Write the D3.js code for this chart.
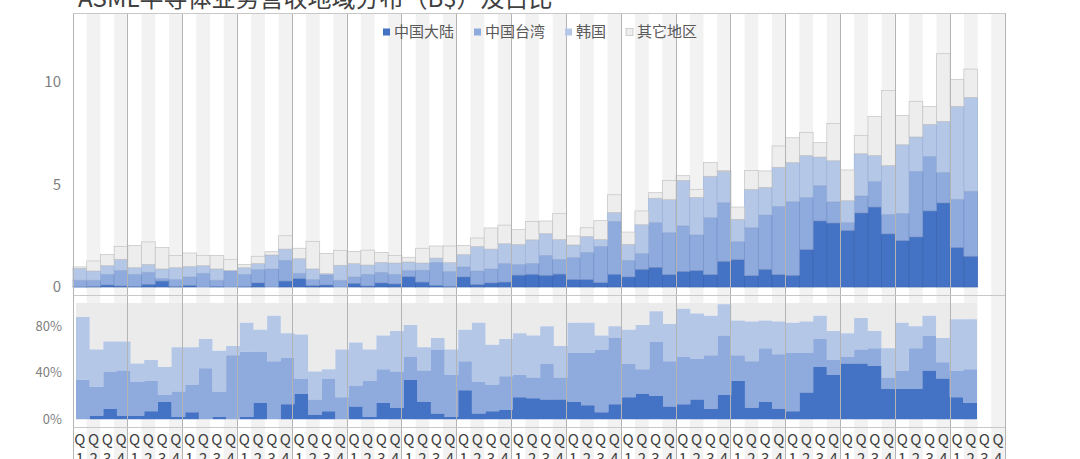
<!DOCTYPE html>
<html><head><meta charset="utf-8">
<script src="https://cdn.jsdelivr.net/npm/d3@7"></script>
<style>
body{margin:0;background:#fff;overflow:hidden}
svg{display:block}
text{font-family:"Noto Sans CJK SC","Noto Sans",sans-serif}
</style>
</head><body>
<svg id="chart" width="1080" height="459"></svg>
<script>
// ---------------- data ----------------
const title = "ASML半导体业务营收地域分布（B$）及占比";
const seriesNames = ["中国大陆", "中国台湾", "韩国", "其它地区"];
const quarters = ["Q1", "Q2", "Q3", "Q4"];
const yearCount = 17;
const valueTicks = [0, 5, 10];
const shareTicks = [0, 40, 80];

// revenue, B$
const mainland = [0.01,0.03,0.10,0.05,0.03,0.13,0.29,0.03,0.08,0.00,0.03,0.00,0.02,0.20,0.00,0.29,0.41,0.07,0.10,0.00,0.18,0.05,0.20,0.15,0.50,0.24,0.08,0.03,0.49,0.12,0.20,0.24,0.58,0.62,0.57,0.63,0.37,0.36,0.21,0.62,0.49,0.86,0.96,0.60,0.76,0.80,0.60,1.25,1.33,0.55,0.86,0.60,0.57,1.82,3.22,3.12,2.76,3.61,3.90,2.59,2.26,2.44,3.71,4.10,1.92,1.50];
const taiwan   = [0.32,0.30,0.52,0.76,0.59,0.59,0.13,0.33,0.41,0.67,0.30,0.78,0.60,0.65,0.88,1.01,0.26,0.29,0.49,0.33,0.31,0.57,0.52,0.47,0.31,0.58,1.12,0.72,0.49,0.66,0.68,0.90,0.52,0.53,0.97,0.72,1.06,1.33,1.77,2.58,0.81,0.77,2.18,2.05,2.22,1.74,2.78,2.86,0.88,2.34,2.65,3.33,3.59,2.54,1.72,1.03,0.38,0.83,1.24,0.95,1.33,3.20,2.66,1.49,2.36,3.17];
const korea    = [0.58,0.45,0.42,0.54,0.32,0.38,0.46,0.58,0.51,0.37,0.55,0.03,0.32,0.29,0.68,0.55,0.71,0.52,0.06,0.73,0.65,0.45,0.48,0.55,0.41,0.35,0.21,0.44,0.60,1.19,0.97,0.97,0.97,1.15,1.06,0.96,0.62,0.77,0.33,0.43,0.78,1.41,1.19,1.61,2.22,1.83,2.02,1.53,1.09,1.87,1.35,1.91,1.91,2.05,1.40,2.01,1.07,2.06,1.27,2.38,3.35,1.68,1.56,2.49,4.53,4.58];
const others   = [0.07,0.49,0.55,0.63,1.09,1.10,1.04,0.59,0.66,0.49,0.66,0.54,0.16,0.36,0.16,0.65,0.51,1.35,0.99,0.73,0.60,0.73,0.49,0.37,0.23,0.72,0.59,0.81,0.45,0.42,1.03,0.91,0.73,0.90,0.62,1.27,0.44,0.43,0.93,0.87,0.60,0.67,0.27,0.93,0.23,0.38,0.67,0.04,0.60,0.93,0.80,1.04,1.21,1.12,0.70,1.82,1.50,0.90,1.90,3.66,1.42,1.74,0.87,3.30,1.32,1.38];

// shares, %
const shareMainland = [0,3,9,3,3,7,15,2,6,0,2,0,2,14,0,13,22,4,7,0,11,2,14,10,34,15,5,2,25,5,7,8,19,18,17,17,15,12,6,13,19,22,20,11,13,17,9,21,33,10,15,9,7,23,45,38,48,48,46,26,26,26,42,35,19,14];
const shareTaiwan   = [34,25,32,39,29,26,6,22,24,44,22,55,56,44,50,40,13,13,28,19,18,31,29,31,20,27,55,36,25,27,23,29,19,18,31,19,42,45,54,57,29,21,47,39,41,35,46,51,22,40,46,47,50,34,24,13,6,12,15,10,16,35,30,14,23,29];
const shareKorea    = [54,32,26,25,16,18,24,38,32,25,35,8,25,19,39,21,38,24,8,41,37,27,29,35,27,20,10,22,27,51,34,32,36,36,32,27,26,26,12,10,29,38,26,32,41,39,34,27,30,34,24,28,26,27,20,25,20,27,15,25,41,19,17,21,44,43];
const shareOthers   = [12,40,33,33,52,49,55,38,38,31,41,37,17,23,11,26,27,59,57,40,34,40,28,24,19,38,30,40,23,17,36,31,26,28,20,37,17,17,28,20,23,19,7,18,5,9,11,1,15,16,15,16,17,16,11,24,26,13,24,39,17,20,11,30,14,14];

// ---------------- setup ----------------
const W = 1080, H = 459;
const svg = d3.select("#chart");
const fills   = ["#4472c4", "#8faadc", "#b4c7e7", "#ededed"];
const strokes = ["#3a64b0", "#7593ca", "#9bb1d8", "#c4c4c4"];
const areaFills = ["#4472c4", "#8faadc", "#b4c7e7", "#ebebeb"];

const categories = d3.range(yearCount * 4).map(i => quarters[i % 4]);
const nData = mainland.length;

const plotL = 73, plotR = 1005;
const topT = 13, topB = 295;
const botT = 295, botB = 427;

const x = d3.scaleBand().domain(d3.range(categories.length)).range([plotL, plotR]).padding(0);
const y = d3.scaleLinear().domain([0, 10]).range([287, 82]);
const xs = d3.scaleLinear().domain([0, nData]).range([76, 977]);
const ys = d3.scaleLinear().domain([0, 100]).range([419.3, 303]);

// background bands (Q2, Q4 columns)
svg.append("g").selectAll("rect")
  .data(categories.map((c, i) => i).filter(i => i % 2 === 1))
  .join("rect")
  .attr("x", i => x(i)).attr("width", x.bandwidth())
  .attr("y", topT).attr("height", H - topT)
  .attr("fill", "#f2f2f2");

// ---------------- top stacked bars ----------------
const rows = d3.range(nData).map(i => ({
  i, [seriesNames[0]]: mainland[i], [seriesNames[1]]: taiwan[i],
  [seriesNames[2]]: korea[i], [seriesNames[3]]: others[i]
}));
const stacked = d3.stack().keys(seriesNames)(rows);
const gBars = svg.append("g");
stacked.forEach((layer, k) => {
  gBars.append("g")
    .attr("fill", fills[k]).attr("stroke", strokes[k]).attr("stroke-width", 0.7)
    .selectAll("rect").data(layer).join("rect")
    .attr("x", d => x(d.data.i)).attr("width", x.bandwidth())
    .attr("y", d => y(d[1])).attr("height", d => Math.max(0, y(d[0]) - y(d[1])));
});

// ---------------- bottom stacked step areas ----------------
const shareRows = d3.range(nData).map(i => ({
  i, [seriesNames[0]]: shareMainland[i], [seriesNames[1]]: shareTaiwan[i],
  [seriesNames[2]]: shareKorea[i], [seriesNames[3]]: shareOthers[i]
}));
// extra point so the last step spans its full column
shareRows.push(Object.assign({}, shareRows[nData - 1], { i: nData }));
const shareStack = d3.stack().keys(seriesNames)(shareRows);
const area = d3.area().curve(d3.curveStepAfter)
  .x(d => xs(d.data.i)).y0(d => ys(d[0])).y1(d => ys(d[1]));
const gArea = svg.append("g");
shareStack.slice().reverse().forEach((layer) => {
  const k = seriesNames.indexOf(layer.key);
  gArea.append("path").attr("d", area(layer)).attr("fill", areaFills[k]);
});

// ---------------- grid / frame ----------------
const gGrid = svg.append("g").attr("stroke", "#b4b4b4").attr("stroke-width", 1).attr("fill", "none");
d3.range(yearCount + 1).forEach(k => {
  const xx = k < yearCount ? x(k * 4) : plotR;
  gGrid.append("line").attr("x1", xx).attr("x2", xx).attr("y1", topT).attr("y2", H)
    .attr("shape-rendering", "crispEdges");
});
[topT, topB, botB].forEach(yy => {
  gGrid.append("line").attr("x1", plotL).attr("x2", plotR).attr("y1", yy).attr("y2", yy)
    .attr("stroke", "#c8c8c8").attr("shape-rendering", "crispEdges");
});

// ---------------- axes labels ----------------
const gy = svg.append("g").attr("fill", "#7f7f7f").attr("font-size", 15).attr("text-anchor", "end");
valueTicks.forEach(t => {
  gy.append("text").attr("x", 61).attr("y", y(t)).attr("dy", "0.35em").text(d3.format("d")(t));
});
const gy2 = svg.append("g").attr("fill", "#7f7f7f").attr("font-size", 13).attr("text-anchor", "end");
shareTicks.forEach(t => {
  gy2.append("text").attr("x", 62).attr("y", ys(t)).attr("dy", "0.35em").text(t + "%");
});

// x category labels (wrapped: "Q" over the number)
const gx = svg.append("g").attr("fill", "#404040").attr("font-size", 15).attr("text-anchor", "middle");
categories.forEach((c, i) => {
  const t = gx.append("text").attr("x", x(i) + x.bandwidth() / 2).attr("y", 445);
  t.append("tspan").attr("x", x(i) + x.bandwidth() / 2).text(c.slice(0, 1));
  t.append("tspan").attr("x", x(i) + x.bandwidth() / 2).attr("y", 464).text(c.slice(1));
});

// ---------------- title ----------------
svg.append("text").attr("x", 78).attr("y", 7).attr("font-size", 24).attr("fill", "#404040").text(title);

// ---------------- legend ----------------
const gLeg = svg.append("g").attr("font-size", 15).attr("fill", "#595959");
let lx = 383;
seriesNames.forEach((name, k) => {
  gLeg.append("rect").attr("x", lx).attr("y", 28.5).attr("width", 7).attr("height", 7)
    .attr("fill", fills[k]).attr("stroke", k === 3 ? "#c4c4c4" : "none").attr("stroke-width", 0.8);
  const t = gLeg.append("text").attr("x", lx + 11).attr("y", 32).attr("dy", "0.35em").text(name);
  lx += 11 + t.node().getComputedTextLength() + 20;
});
</script>
</body></html>
